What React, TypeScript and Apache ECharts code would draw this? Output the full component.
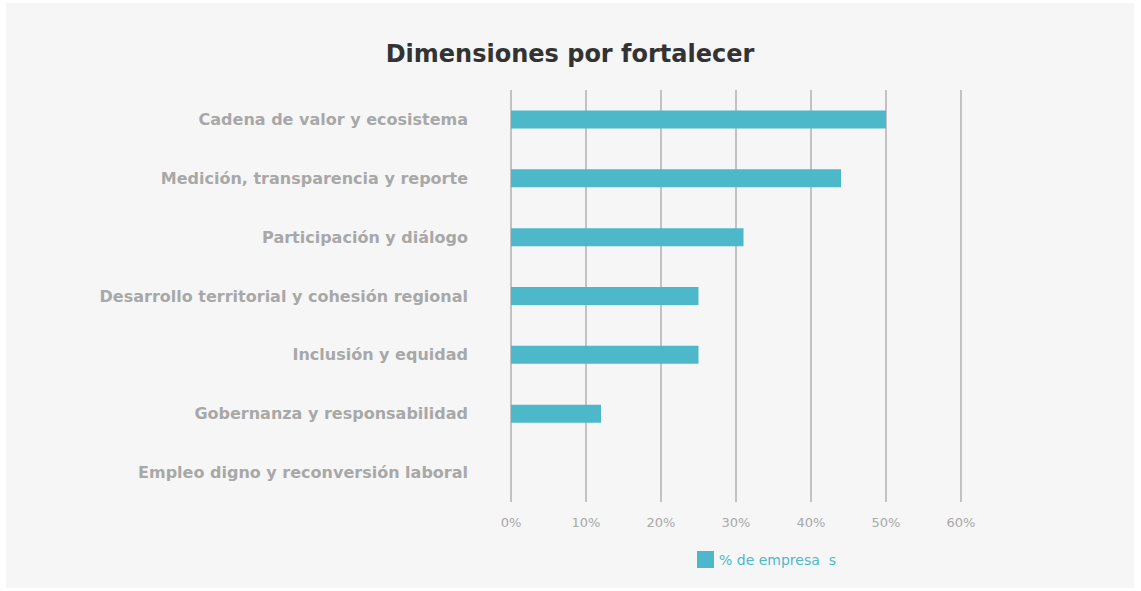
import React, { useEffect, useRef } from "react";
import * as echarts from "echarts";

const categories = [
  "Cadena de valor y ecosistema",
  "Medición, transparencia y reporte",
  "Participación y diálogo",
  "Desarrollo territorial y cohesión regional",
  "Inclusión y equidad",
  "Gobernanza y responsabilidad",
  "Empleo digno y reconversión laboral",
];
const values = [50, 44, 31, 25, 25, 12, 0];
const seriesName = "% de empresa  s";
const titleText = "Dimensiones por fortalecer";

export default function App() {
  const ref = useRef<HTMLDivElement>(null);
  useEffect(() => {
    document.body.style.margin = "0";
    document.body.style.background = "#ffffff";
    const chart = echarts.init(ref.current!, null, { renderer: "svg" });
    chart.setOption({
      animation: false,
      backgroundColor: "#f6f6f6",
      title: {
        text: titleText,
        left: "center",
        top: 34,
        textStyle: { fontFamily: "DejaVu Sans", fontWeight: "bold", fontSize: 24, color: "#333333" },
      },
      legend: {
        data: [seriesName],
        left: 686,
        top: 543,
        itemWidth: 17,
        itemHeight: 17,
        icon: "rect",
        itemGap: 6,
        textStyle: { color: "#4db8c9", fontFamily: "DejaVu Sans", fontSize: 14 },
      },
      grid: { left: 505, right: 173, top: 87, bottom: 86, containLabel: false },
      xAxis: {
        type: "value",
        min: 0,
        max: 60,
        interval: 10,
        axisLine: { show: false },
        axisTick: { show: false },
        splitLine: { show: true, lineStyle: { color: "#b0b0b0", width: 1.5 } },
        axisLabel: {
          formatter: "{value}%",
          color: "#a8a8a8",
          fontFamily: "DejaVu Sans",
          fontSize: 13,
          margin: 14,
        },
      },
      yAxis: {
        type: "category",
        data: categories,
        inverse: true,
        axisLine: { show: false },
        axisTick: { show: false },
        axisLabel: {
          color: "#a8a8a8",
          fontFamily: "DejaVu Sans",
          fontWeight: "bold",
          fontSize: 16,
          margin: 43,
        },
      },
      series: [
        {
          name: seriesName,
          type: "bar",
          data: values,
          barWidth: 18,
          itemStyle: { color: "#4db8c9" },
        },
      ],
    });
    return () => chart.dispose();
  }, []);
  return (
    <div style={{ position: "fixed", left: 0, top: 0, width: 1141, height: 591, background: "#fff" }}>
      <div ref={ref} style={{ position: "absolute", left: 6, top: 3, width: 1128, height: 585 }} />
    </div>
  );
}
